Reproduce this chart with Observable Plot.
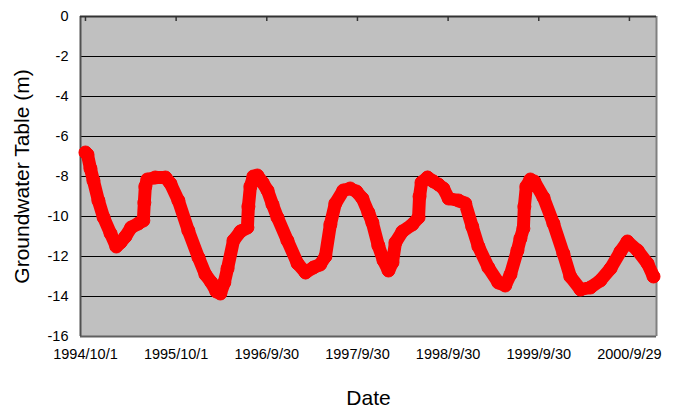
<!DOCTYPE html>
<html><head><meta charset="utf-8">
<script src="https://cdn.jsdelivr.net/npm/d3@7"></script>
<script src="https://cdn.jsdelivr.net/npm/@observablehq/plot@0.6"></script>
<style>
body{margin:0;background:#fff;}
#chart{width:686px;height:410px;}
</style></head><body><div id="chart"></div>
<script>
// days since 1994/10/1
const dayOffsets = [0,8,20,32,52,73,101,124,141,161,184,213,233,237,241,249,281,322,342,374,414,455,483,507,527,543,559,572,596,624,652,656,664,676,692,713,733,753,773,813,854,886,918,945,966,986,1006,1038,1066,1091,1115,1139,1155,1179,1200,1220,1236,1248,1276,1316,1341,1345,1353,1377,1401,1421,1441,1462,1502,1529,1557,1582,1622,1662,1690,1711,1739,1751,1763,1767,1775,1791,1807,1844,1884,1924,1952,1993,2033,2073,2114,2154,2182,2223,2263,2287];
const levels = [-6.8,-6.9,-7.6,-8.2,-9.2,-10.05,-10.85,-11.5,-11.3,-11.0,-10.55,-10.35,-10.2,-9.3,-8.5,-8.15,-8.05,-8.05,-8.35,-9.2,-10.7,-12.05,-12.9,-13.3,-13.75,-13.85,-13.3,-12.6,-11.2,-10.75,-10.55,-9.5,-8.5,-8.0,-7.95,-8.3,-8.7,-9.4,-10.05,-11.2,-12.35,-12.8,-12.55,-12.4,-12.0,-10.4,-9.35,-8.7,-8.6,-8.75,-9.1,-9.8,-10.3,-11.45,-12.2,-12.7,-12.3,-11.3,-10.75,-10.4,-10.05,-9.0,-8.3,-8.05,-8.25,-8.4,-8.6,-9.1,-9.2,-9.35,-10.5,-11.5,-12.55,-13.3,-13.45,-12.9,-11.7,-11.1,-10.6,-9.5,-8.5,-8.15,-8.25,-9.05,-10.35,-11.85,-13.0,-13.65,-13.55,-13.2,-12.6,-11.75,-11.25,-11.7,-12.35,-13.0];
const tickDays = [0,365,730,1095,1460,1825,2190];
const tickLabels = ["1994/10/1","1995/10/1","1996/9/30","1997/9/30","1998/9/30","1999/9/30","2000/9/29"];
const yTicks = [0,-2,-4,-6,-8,-10,-12,-14,-16];
const xDomain = [-20,2299];
const yDomain = [-16,0];
const xTitle = "Date";
const yTitle = "Groundwater Table (m)";

const data = dayOffsets.map((d,i)=>({d, v: levels[i]}));
const font = "Liberation Sans, Arial, sans-serif";

const chart = Plot.plot({
  width:686, height:410,
  marginLeft:80, marginRight:30, marginTop:16, marginBottom:74,
  style:{fontFamily:font, fontSize:"14.5px", color:"#000", background:"#fff", overflow:"visible"},
  x:{domain:xDomain},
  y:{domain:yDomain},
  marks:[
    Plot.frame({fill:"#c0c0c0", stroke:null}),
    Plot.ruleY(yTicks.filter(v=>v>yDomain[0] && v<yDomain[1]), {stroke:"#000", strokeWidth:1}),
    Plot.ruleY([yDomain[0]], {stroke:"#606060", strokeWidth:2}),
    Plot.ruleX([xDomain[1]], {stroke:"#808080", strokeWidth:2}),
    Plot.ruleX([xDomain[0]], {stroke:"#505050", strokeWidth:2}),
    Plot.line(data, {x:"d", y:"v", stroke:"#ff0000", strokeWidth:13}),
    Plot.dot(data, {x:"d", y:"v", r:6.5, stroke:"#ff0000", strokeWidth:1, fill:"none"}),
    Plot.ruleY([yDomain[1]], {stroke:"#333", strokeWidth:2}),
    Plot.ruleX(tickDays, {y1:0, y2:-0.25, stroke:"#333", strokeWidth:1.5}),
    Plot.axisX({ticks:tickDays, tickFormat:d=>tickLabels[tickDays.indexOf(d)], tickSize:0, tickPadding:12, label:null, fontSize:14.5}),
    Plot.axisY({ticks:yTicks, tickFormat:d=>String(d), tickSize:0, tickPadding:12, label:null, fontSize:14.5}),
    Plot.text([xTitle], {text:d=>d, frameAnchor:"bottom", dy:62, lineAnchor:"middle", textAnchor:"middle", fontSize:21}),
    Plot.text([yTitle], {text:d=>d, frameAnchor:"left", dx:-58, rotate:-90, lineAnchor:"middle", textAnchor:"middle", fontSize:21})
  ]
});
document.getElementById("chart").append(chart);
</script></body></html>
